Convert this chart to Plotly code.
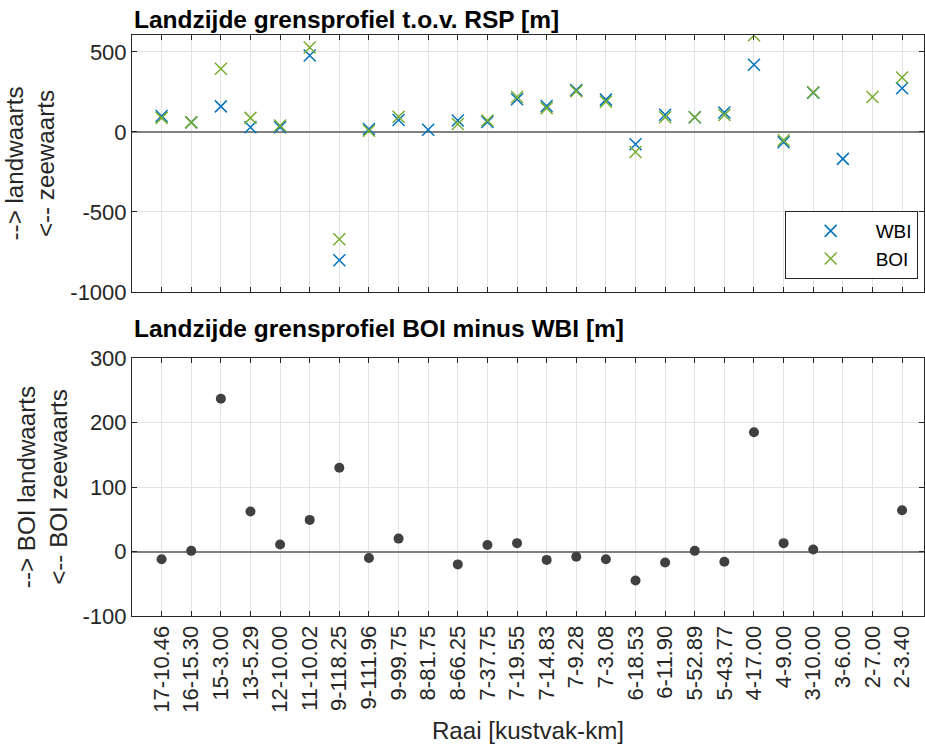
import numpy as np
import plotly.graph_objects as go
from plotly.subplots import make_subplots

raai = ["17-10.46", "16-15.30", "15-3.00", "13-5.29", "12-10.00", "11-10.02", "9-118.25",
        "9-111.96", "9-99.75", "8-81.75", "8-66.25", "7-37.75", "7-19.55", "7-14.83",
        "7-9.28", "7-3.08", "6-18.53", "6-11.90", "5-52.89", "5-43.77", "4-17.00",
        "4-9.00", "3-10.00", "3-6.00", "2-7.00", "2-3.40"]
wbi = [100, 60, 160, 29, 30, 478, -802, 18, 75, 14, 72, 62, 205, 162,
       262, 202, -77, 108, 92, 122, 420, -64, 245, -168, None, 273]
boi = [88, 60, 395, 88, 41, 528, -670, 8, 95, None, 50, 72, 218, 149,
       254, 189, -125, 92, 92, 106, 604, -52, 248, None, 219, 340]
diff = [-12, 1, 237, 62, 11, 49, 130, -10, 20, None, -20, 10, 13, -13,
        -8, -12, -45, -17, 1, -16, 185, 13, 3, None, None, 64]
top_ticks = [-1000, -500, 0, 500]
bot_ticks = [-100, 0, 100, 200, 300]

x = list(range(1, len(raai) + 1))

fig = make_subplots(rows=2, cols=1, shared_xaxes=False, vertical_spacing=0.0)

fig.add_trace(go.Scatter(x=x, y=wbi, mode="markers", name="WBI",
                         marker=dict(symbol="x-thin", size=12, color="#0072BD",
                                     line=dict(color="#0072BD", width=1.5))), row=1, col=1)
fig.add_trace(go.Scatter(x=x, y=boi, mode="markers", name="BOI",
                         marker=dict(symbol="x-thin", size=12, color="#77AC30",
                                     line=dict(color="#77AC30", width=1.5))), row=1, col=1)
fig.add_trace(go.Scatter(x=x, y=diff, mode="markers", showlegend=False,
                         marker=dict(symbol="circle", size=10, color="#404040")), row=2, col=1)

font_main = "Liberation Sans, Arial, sans-serif"
axcol = "#262626"
common_x = dict(range=[0, 26.74], tickvals=x, ticktext=raai, showgrid=True,
                gridcolor="#E3E3E3", gridwidth=1, ticks="inside", ticklen=5,
                tickcolor=axcol, showline=True, linecolor=axcol, linewidth=1,
                mirror="ticks", zeroline=False, tickfont=dict(size=22, color=axcol))
fig.update_xaxes(**common_x, showticklabels=False, row=1, col=1)
fig.update_xaxes(**common_x, showticklabels=True, tickangle=-90, row=2, col=1,
                 title=dict(text="Raai [kustvak-km]", font=dict(size=24.2, color=axcol),
                            standoff=10))

common_y = dict(showgrid=True, gridcolor="#E3E3E3", gridwidth=1, ticks="inside",
                ticklen=5, tickcolor=axcol, showline=True, linecolor=axcol, linewidth=1,
                mirror="ticks", zeroline=True, zerolinecolor="#808080", zerolinewidth=2,
                tickfont=dict(size=22, color=axcol))
fig.update_yaxes(**common_y, range=[-1000, 606], tickvals=top_ticks,
                 ticktext=[str(v) for v in top_ticks],
                 domain=[0.5577, 1.0], row=1, col=1,
                 title=dict(text="--> landwaarts<br><-- zeewaarts",
                            font=dict(size=24.2, color=axcol), standoff=8))
fig.update_yaxes(**common_y, range=[-100, 300], tickvals=bot_ticks,
                 ticktext=[str(v) for v in bot_ticks],
                 domain=[0.0, 0.444], row=2, col=1,
                 title=dict(text="--> BOI landwaarts<br><-- BOI zeewaarts",
                            font=dict(size=24.2, color=axcol), standoff=8))

fig.add_annotation(text="<b>Landzijde grensprofiel t.o.v. RSP [m]</b>", xref="paper", yref="paper",
                   x=0.0, y=1.0, xanchor="left", yanchor="bottom", yshift=0, showarrow=False,
                   font=dict(size=24.5, color="black", family=font_main))
fig.add_annotation(text="<b>Landzijde grensprofiel BOI minus WBI [m]</b>", xref="paper", yref="paper",
                   x=0.0, y=0.444, xanchor="left", yanchor="bottom", yshift=14, showarrow=False,
                   font=dict(size=24.5, color="black", family=font_main))

fig.update_layout(
    width=925, height=744,
    margin=dict(l=132, r=1, t=35, b=128),
    paper_bgcolor="white", plot_bgcolor="white",
    font=dict(family=font_main, color=axcol),
    legend=dict(x=0.992, y=0.58, xanchor="right", yanchor="bottom",
                bordercolor="#262626", borderwidth=1, bgcolor="white",
                font=dict(size=19, color="black"), itemwidth=80,
                tracegroupgap=0),
    showlegend=True,
)

fig.write_html("out.html")
